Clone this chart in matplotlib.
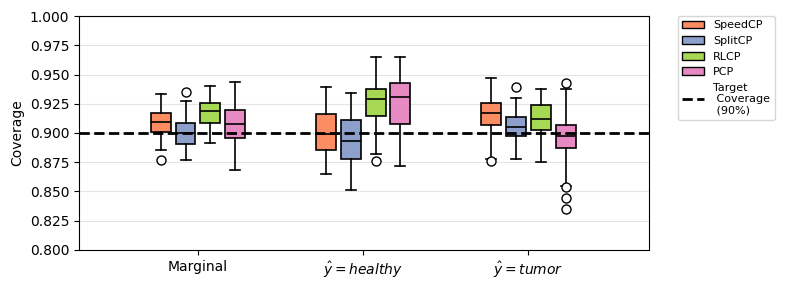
import matplotlib
matplotlib.use("Agg")
import matplotlib.pyplot as plt
from matplotlib.patches import Patch
from matplotlib.lines import Line2D

groups = ["Marginal", r"$\hat{y} = healthy$", r"$\hat{y} = tumor$"]
methods = ["SpeedCP", "SplitCP", "RLCP", "PCP"]
colors = ["#fc8d62", "#8da0cb", "#a6d854", "#e78ac3"]

# per method: rows = groups, values = (whislo, q1, med, q3, whishi)
speedcp = [(0.8852, 0.9011, 0.9091, 0.9168, 0.9331),
           (0.8647, 0.8855, 0.8991, 0.9160, 0.9390),
           (0.8778, 0.9068, 0.9174, 0.9259, 0.9467)]
splitcp = [(0.8769, 0.8906, 0.9003, 0.9083, 0.9276),
           (0.8510, 0.8778, 0.8932, 0.9108, 0.9339),
           (0.8775, 0.8972, 0.9049, 0.9134, 0.9296)]
rlcp = [(0.8912, 0.9083, 0.9185, 0.9254, 0.9402),
        (0.8818, 0.9143, 0.9288, 0.9373, 0.9647),
        (0.8750, 0.9023, 0.9117, 0.9237, 0.9379)]
pcp = [(0.8684, 0.8955, 0.9077, 0.9194, 0.9436),
       (0.8715, 0.9074, 0.9305, 0.9430, 0.9647),
       (0.8551, 0.8869, 0.8974, 0.9071, 0.9379)]

speedcp_fliers = [[0.8767], [], [0.8761]]
splitcp_fliers = [[0.9348], [], [0.9390]]
rlcp_fliers = [[], [0.8758], []]
pcp_fliers = [[], [], [0.9427, 0.8535, 0.8442, 0.8350]]

target = 0.9

all_stats = [speedcp, splitcp, rlcp, pcp]
all_fliers = [speedcp_fliers, splitcp_fliers, rlcp_fliers, pcp_fliers]

fig = plt.figure(figsize=(7.87, 2.9), dpi=100)
ax = fig.add_axes([0.1004, 0.138, 0.7243, 0.8068])

offsets = [-0.225, -0.075, 0.075, 0.225]
for m, (stats, fliers) in enumerate(zip(all_stats, all_fliers)):
    bstats = []
    for g in range(len(groups)):
        lo, q1, med, q3, hi = stats[g]
        bstats.append(dict(whislo=lo, q1=q1, med=med, q3=q3, whishi=hi,
                           fliers=fliers[g]))
    pos = [g + offsets[m] for g in range(len(groups))]
    ax.bxp(bstats, positions=pos, widths=0.12, patch_artist=True,
           boxprops=dict(facecolor=colors[m], edgecolor="black", linewidth=1.2),
           medianprops=dict(color="black", linewidth=1.2),
           whiskerprops=dict(color="black", linewidth=1.2),
           capprops=dict(color="black", linewidth=1.2),
           flierprops=dict(marker="o", markerfacecolor="white",
                           markeredgecolor="black", markersize=6.5))

ax.axhline(target, color="black", linestyle="--", linewidth=2, zorder=5)

ax.set_xticks(range(len(groups)))
ax.set_xticklabels(groups, fontsize=10)
ax.set_xlim(-0.72, 2.73)
ax.set_ylim(0.8, 1.0)
ax.set_yticks([0.8 + 0.025 * i for i in range(9)])
ax.set_ylabel("Coverage")
ax.yaxis.grid(True, color="#e5e5e5", linewidth=0.8)
ax.set_axisbelow(True)

handles = [Patch(facecolor=c, edgecolor="black", label=n) for c, n in zip(colors, methods)]
handles.append(Line2D([0], [0], color="black", linestyle="--", linewidth=2,
                      label="Target\n Coverage\n (90%)"))
ax.legend(handles=handles, loc="upper left", bbox_to_anchor=(1.05, 1.0),
          fontsize=8, borderaxespad=0)

fig.savefig("out.png", dpi=100)
